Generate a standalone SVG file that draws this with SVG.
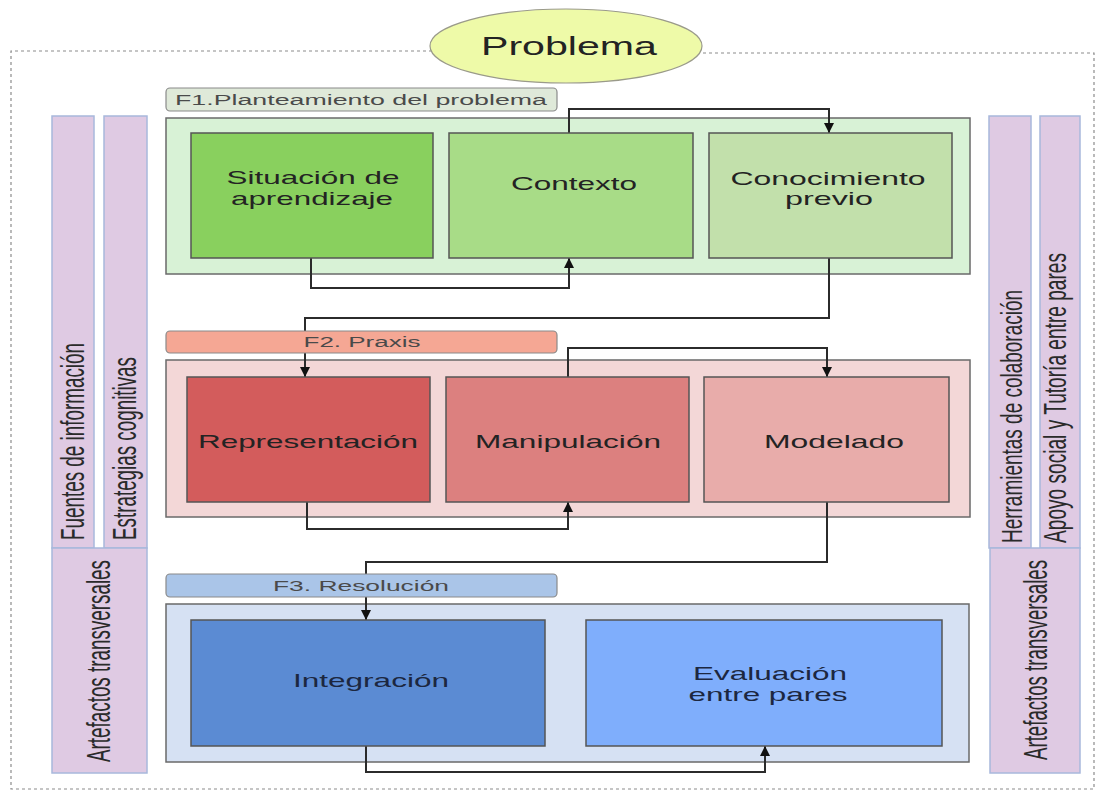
<svg xmlns="http://www.w3.org/2000/svg" width="1097" height="791" viewBox="0 0 1097 791">
<style>
  .t{font-family:"Liberation Sans",Arial,sans-serif;fill:#232323;text-anchor:middle}
  .nt{font-size:19px}
  .lt{font-size:14px;fill:#4a4a4a}
  .vt{font-family:"Liberation Sans",Arial,sans-serif;fill:#2a2a2a;text-anchor:middle}
  .bar{fill:#dfcae3;stroke:#a8b8dc;stroke-width:1.5}
  .node{stroke:#555;stroke-width:1.5}
  .cont{stroke:#6a6a6a;stroke-width:1.5}
  .lab{stroke:#8a8a8a;stroke-width:1.2}
  .con{fill:none;stroke:#2b2b2b;stroke-width:2}
  .border{fill:none;stroke:#8c8c8c;stroke-width:1.2;stroke-dasharray:3 3}
</style>
<defs>
  <marker id="arr" markerUnits="userSpaceOnUse" markerWidth="11" markerHeight="11" refX="10" refY="5" orient="auto">
    <path d="M0,0 L10,5 L0,10 z" fill="#111"/>
  </marker>
</defs>
<rect width="1097" height="791" fill="#ffffff"/>

<g id="outer-border">
  <path class="border" d="M432,51 H11 V789 H1094 V53 H702"/>
</g>

<g id="problema">
  <ellipse cx="566" cy="46" rx="136" ry="37" fill="#eefaa8" stroke="#9a9a8a" stroke-width="1.2"/>
  <text class="t" x="569" y="55" font-size="25" textLength="176" lengthAdjust="spacingAndGlyphs">Problema</text>
</g>

<!-- side bars -->
<g id="bar-fuentes">
  <rect class="bar" x="52" y="116" width="42" height="432"/>
  <text class="vt" transform="translate(84,441.5) rotate(-90)" font-size="33" textLength="197" lengthAdjust="spacingAndGlyphs">Fuentes de información</text>
</g>
<g id="bar-estrategias">
  <rect class="bar" x="104" y="116" width="43" height="432"/>
  <text class="vt" transform="translate(136,448.5) rotate(-90)" font-size="34" textLength="183" lengthAdjust="spacingAndGlyphs">Estrategias cognitivas</text>
</g>
<g id="bar-artefactos-izq">
  <rect class="bar" x="52" y="548" width="95" height="225"/>
  <text class="vt" transform="translate(110,661) rotate(-90)" font-size="34" textLength="202" lengthAdjust="spacingAndGlyphs">Artefactos transversales</text>
</g>
<g id="bar-herramientas">
  <rect class="bar" x="989" y="116" width="42" height="432"/>
  <text class="vt" transform="translate(1022,416.5) rotate(-90)" font-size="29" textLength="253" lengthAdjust="spacingAndGlyphs">Herramientas de colaboración</text>
</g>
<g id="bar-apoyo">
  <rect class="bar" x="1040" y="116" width="40" height="432"/>
  <text class="vt" transform="translate(1066,398) rotate(-90)" font-size="32" textLength="290" lengthAdjust="spacingAndGlyphs">Apoyo social y Tutoría entre pares</text>
</g>
<g id="bar-artefactos-der">
  <rect class="bar" x="990" y="548" width="90" height="225"/>
  <text class="vt" transform="translate(1047,660) rotate(-90)" font-size="34" textLength="200" lengthAdjust="spacingAndGlyphs">Artefactos transversales</text>
</g>

<!-- phase containers -->
<g id="f1-container"><rect class="cont" x="166" y="118" width="804" height="156" fill="#d8f2d6"/></g>
<g id="f2-container"><rect class="cont" x="166" y="360" width="804" height="157" fill="#f3d7d7"/></g>
<g id="f3-container"><rect class="cont" x="166" y="604" width="803" height="158" fill="#d6e1f3" stroke="#8a8f99"/></g>

<g id="connectors">
  <path class="con" d="M569,133 V109 H829 V133" marker-end="url(#arr)"/>
  <path class="con" d="M311,258 V288 H569 V258" marker-end="url(#arr)"/>
  <path class="con" d="M829,258 V318 H305 V377" marker-end="url(#arr)"/>
  <path class="con" d="M568,377 V348 H827 V377" marker-end="url(#arr)"/>
  <path class="con" d="M307,502 V529 H568 V502" marker-end="url(#arr)"/>
  <path class="con" d="M827,502 V562 H366 V620" marker-end="url(#arr)"/>
  <path class="con" d="M366,746 V772 H765 V746" marker-end="url(#arr)"/>
</g>

<!-- phase labels -->
<g id="f1-label">
  <rect class="lab" x="166" y="88" width="391" height="23" rx="4" fill="#dfe9d9"/>
  <text class="t lt" x="361" y="105" textLength="372" lengthAdjust="spacingAndGlyphs">F1.Planteamiento del problema</text>
</g>
<g id="f2-label">
  <rect class="lab" x="166" y="331" width="391" height="22" rx="4" fill="#f5a794"/>
  <text class="t lt" x="362" y="347" textLength="117" lengthAdjust="spacingAndGlyphs">F2. Praxis</text>
</g>
<g id="f3-label">
  <rect class="lab" x="166" y="574" width="391" height="23" rx="4" fill="#aac5e8"/>
  <text class="t lt" x="361" y="591" textLength="176" lengthAdjust="spacingAndGlyphs">F3. Resolución</text>
</g>

<!-- nodes F1 -->
<g id="situacion">
  <rect class="node" x="191" y="133" width="242" height="125" fill="#89d05e"/>
  <text class="t nt" x="313" y="184" textLength="173" lengthAdjust="spacingAndGlyphs">Situación de</text>
  <text class="t nt" x="312" y="205" textLength="162" lengthAdjust="spacingAndGlyphs">aprendizaje</text>
</g>
<g id="contexto">
  <rect class="node" x="449" y="133" width="244" height="125" fill="#a8dc87"/>
  <text class="t nt" x="574" y="190" textLength="126" lengthAdjust="spacingAndGlyphs">Contexto</text>
</g>
<g id="conocimiento">
  <rect class="node" x="709" y="133" width="243" height="125" fill="#c2e0ab"/>
  <text class="t nt" x="828" y="185" textLength="195" lengthAdjust="spacingAndGlyphs">Conocimiento</text>
  <text class="t nt" x="829" y="205" textLength="88" lengthAdjust="spacingAndGlyphs">previo</text>
</g>

<!-- nodes F2 -->
<g id="representacion">
  <rect class="node" x="187" y="377" width="243" height="125" fill="#d35c5c"/>
  <text class="t nt" x="308" y="448" textLength="220" lengthAdjust="spacingAndGlyphs">Representación</text>
</g>
<g id="manipulacion">
  <rect class="node" x="446" y="377" width="243" height="125" fill="#dc807f"/>
  <text class="t nt" x="568" y="448" textLength="186" lengthAdjust="spacingAndGlyphs">Manipulación</text>
</g>
<g id="modelado">
  <rect class="node" x="704" y="377" width="245" height="125" fill="#e8acaa"/>
  <text class="t nt" x="834" y="448" textLength="140" lengthAdjust="spacingAndGlyphs">Modelado</text>
</g>

<!-- nodes F3 -->
<g id="integracion">
  <rect class="node" x="191" y="620" width="354" height="126" fill="#5b8bd3"/>
  <text class="t nt" x="371" y="687" textLength="156" lengthAdjust="spacingAndGlyphs" style="fill:#1c2740">Integración</text>
</g>
<g id="evaluacion">
  <rect class="node" x="586" y="620" width="356" height="126" fill="#7faefc"/>
  <text class="t nt" x="770" y="680" textLength="154" lengthAdjust="spacingAndGlyphs" style="fill:#1c2740">Evaluación</text>
  <text class="t nt" x="768" y="701" textLength="159" lengthAdjust="spacingAndGlyphs" style="fill:#1c2740">entre pares</text>
</g>
</svg>
